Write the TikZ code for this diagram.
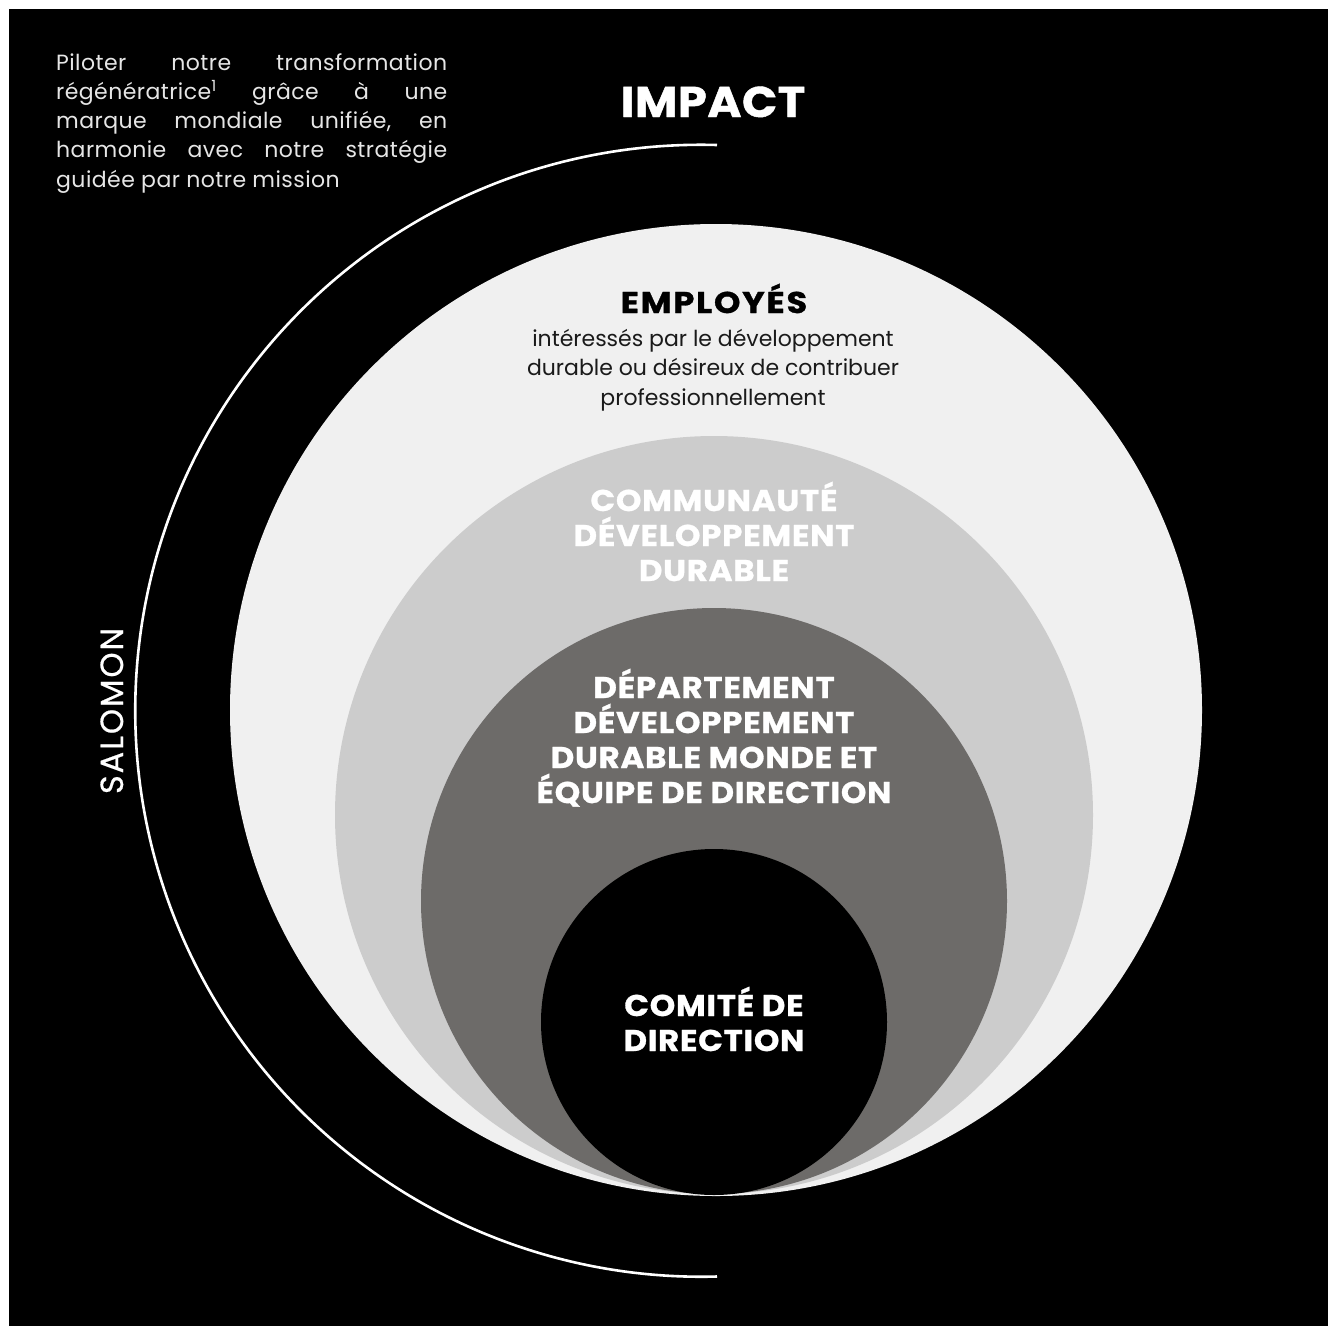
\documentclass[tikz,border=0pt]{standalone}
\usepackage{fontspec}
\setmainfont{Poppins}
\newfontfamily\headfont[FakeStretch=1.08,LetterSpace=2.5,FakeBold=1]{Poppins Bold}
\newfontfamily\empfont[FakeStretch=1.12,LetterSpace=6,FakeBold=1]{Poppins Bold}
\newfontfamily\impfont[FakeStretch=1.08,LetterSpace=1,FakeBold=1]{Poppins Bold}
\newfontfamily\parafont[LetterSpace=2]{Poppins}
\newfontfamily\salfont[LetterSpace=6,FakeBold=0.6]{Poppins}
\definecolor{ringA}{HTML}{F0F0F0}
\definecolor{ringB}{HTML}{CCCCCC}
\definecolor{ringC}{HTML}{6D6B69}
\definecolor{bodytxt}{HTML}{E6E6E6}
\definecolor{darktxt}{HTML}{1A1A1A}
\tikzset{
  head/.style={anchor=base, inner sep=0pt, font=\headfont\fontsize{30}{34}\selectfont},
  whitehead/.style={head, text=white},
  darkbody/.style={anchor=base, inner sep=0pt, text=darktxt, font=\fontsize{22}{29}\selectfont},
  para/.style={anchor=base west, inner sep=0pt, text=bodytxt, font=\parafont\fontsize{22}{29}\selectfont},
}
\begin{document}
\begin{tikzpicture}[x=1pt,y=-1pt]
\useasboundingbox (0,0) rectangle (1328,1326);
\fill[white] (0,0) rectangle (1328,1326);
\fill[black] (9,9) rectangle (1328,1326);
% rings
\fill[ringA] (716,710) circle[radius=486];
\fill[ringB] (714,815) circle[radius=379];
\fill[ringC] (714,901) circle[radius=293];
\fill[black] (714,1022) circle[radius=173];
% arc
\coordinate (arcTop) at (717,145);
\draw[white, line width=2.6pt] (arcTop) arc[start angle=-88.4, end angle=-271.6, radius=566];
% top-left paragraph
\node[para] (p1) at (56,70) {\hbox to 391pt{Piloter\hfill notre\hfill transformation}};
\node[para] (p2) at (56,99) {\hbox to 391pt{régénératrice\textsuperscript{1}\hfill grâce\hfill à\hfill une}};
\node[para] (p3) at (56,128) {\hbox to 391pt{marque\hfill mondiale\hfill unifiée,\hfill en}};
\node[para] (p4) at (56,157) {\hbox to 391pt{harmonie\hfill avec\hfill notre\hfill stratégie}};
\node[para] (p5) at (56,187) {guidée par notre mission};
% IMPACT
\node[anchor=base, inner sep=0pt, text=white, font=\impfont\fontsize{43}{48}\selectfont] (impact) at (713,117) {IMPACT};
% SALOMON
\node[anchor=base, inner sep=0pt, text=white, rotate=90, font=\salfont\fontsize{32}{36}\selectfont] (salomon) at (123,711) {SALOMON};
% Employes
\node[anchor=base, inner sep=0pt, text=black, font=\empfont\fontsize{30}{34}\selectfont] (emp) at (714,313) {EMPLOYÉS};
\node[darkbody] (e1) at (713,346) {intéressés par le développement};
\node[darkbody] (e2) at (713,375) {durable ou désireux de contribuer};
\node[darkbody] (e3) at (713,405) {professionnellement};
% Communaute
\node[whitehead] (c1) at (714,511) {COMMUNAUTÉ};
\node[whitehead] (c2) at (714,546) {DÉVELOPPEMENT};
\node[whitehead] (c3) at (714,581) {DURABLE};
% Departement
\node[whitehead] (d1) at (714,698) {DÉPARTEMENT};
\node[whitehead] (d2) at (714,733) {DÉVELOPPEMENT};
\node[whitehead] (d3) at (714,768) {DURABLE MONDE ET};
\node[whitehead] (d4) at (714,803) {ÉQUIPE DE DIRECTION};
% Comite
\node[whitehead] (k1) at (714,1016) {COMITÉ DE};
\node[whitehead] (k2) at (714,1051) {DIRECTION};
\end{tikzpicture}
\end{document}
